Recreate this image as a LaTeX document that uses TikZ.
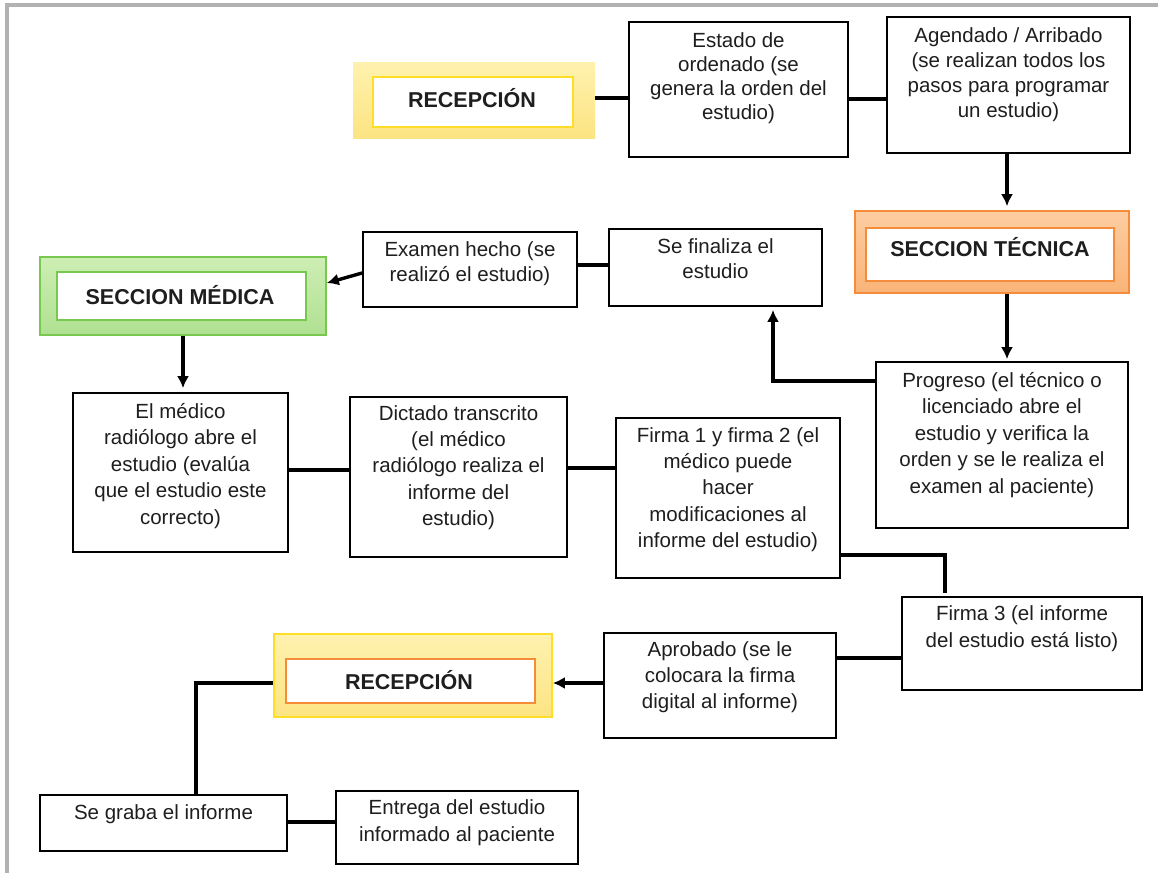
\documentclass[tikz,border=0pt]{standalone}
\usepackage{fontspec}
\setmainfont{Liberation Sans}
\usetikzlibrary{arrows.meta,calc}
\definecolor{framegray}{RGB}{178,178,178}
\definecolor{txtc}{RGB}{30,30,30}
\definecolor{ylwtop}{RGB}{255,242,175}
\definecolor{ylwbot}{RGB}{252,228,130}
\definecolor{ylwline}{RGB}{255,222,40}
\definecolor{orgtop}{RGB}{252,205,160}
\definecolor{orgbot}{RGB}{250,180,120}
\definecolor{orgline}{RGB}{245,140,60}
\definecolor{grntop}{RGB}{205,238,180}
\definecolor{grnbot}{RGB}{175,225,145}
\definecolor{grnline}{RGB}{120,200,80}
\begin{document}
\begin{tikzpicture}[x=1pt,y=-1pt,
  box/.style={draw=black,line width=1.7pt,fill=white,inner sep=0pt},
  txt/.style={align=center,inner sep=0pt,text=txtc,font=\fontsize{20.5}{25.5}\selectfont},
  title/.style={inner sep=0pt,text=txtc,font=\fontsize{21.5}{25}\selectfont\bfseries},
  conn/.style={draw=black,line width=3.4pt},
  arr/.style={conn,-{Latex[length=12pt,width=12pt]}},
  outerY/.style={inner sep=0pt,top color=ylwtop,bottom color=ylwbot},
  outerO/.style={inner sep=0pt,top color=orgtop,bottom color=orgbot,draw=orgline,line width=1.6pt},
  outerG/.style={inner sep=0pt,top color=grntop,bottom color=grnbot,draw=grnline,line width=1.6pt},
  innerW/.style={inner sep=0pt,fill=white,line width=1.6pt}]
\useasboundingbox (0,0) rectangle (1158,873);
\fill[white] (0,0) rectangle (1158,873);
% frame
\draw[framegray,line width=3.2pt] (7,873) -- (7,5) -- (1158,5);

% section boxes
\node[outerY,minimum width=242pt,minimum height=76pt] (rec1o) at (474,100) {};
\node[innerW,draw=ylwline,minimum width=200pt,minimum height=50pt] (rec1i) at (473,102) {};
\node[title] (rec1t) at (472,98) {RECEPCIÓN};

\node[outerO,minimum width=274pt,minimum height=82pt] (teco) at (992,252) {};
\node[innerW,draw=orgline,minimum width=248pt,minimum height=53pt] (teci) at (990,254.5) {};
\node[title] (tect) at (990,247) {SECCION TÉCNICA};

\node[outerG,minimum width=286pt,minimum height=78pt] (medo) at (183,296) {};
\node[innerW,draw=grnline,minimum width=249pt,minimum height=48pt] (medi) at (181.5,296) {};
\node[title] (medt) at (180,295) {SECCION MÉDICA};

\node[outerY,draw=ylwline,line width=1.6pt,minimum width=278pt,minimum height=83pt] (rec2o) at (413,675.5) {};
\node[innerW,draw=orgline,minimum width=249pt,minimum height=44pt] (rec2i) at (410.5,681) {};
\node[title] (rec2t) at (409,680) {RECEPCIÓN};

% plain boxes
\node[box,minimum width=219pt,minimum height=135pt] (estado) at (738.5,89.5) {};
\node[txt,anchor=north,font=\fontsize{20.5}{24}\selectfont] (estadoT) at ([yshift=-11pt]estado.north) {Estado de\\ordenado (se\\genera la orden del\\estudio)};

\node[box,minimum width=243pt,minimum height=136pt] (agend) at (1008.5,85) {};
\node[txt,anchor=north,font=\fontsize{20.5}{25}\selectfont] (agendT) at ([yshift=-11pt]agend.north) {Agendado / Arribado\\(se realizan todos los\\pasos para programar\\un estudio)};

\node[box,minimum width=213pt,minimum height=77pt] (fin) at (715.5,267.5) {};
\node[txt,anchor=north] (finT) at ([yshift=-10pt]fin.north) {Se finaliza el\\estudio};

\node[box,minimum width=214pt,minimum height=75pt] (exam) at (470,269.5) {};
\node[txt,anchor=north] (examT) at ([yshift=-10pt]exam.north) {Examen hecho (se\\realizó el estudio)};

\node[box,minimum width=252pt,minimum height=166pt] (prog) at (1002,445) {};
\node[txt,anchor=north,font=\fontsize{20.5}{26.5}\selectfont] (progT) at ([yshift=-11pt]prog.north) {Progreso (el técnico o\\licenciado abre el\\estudio y verifica la\\orden y se le realiza el\\examen al paciente)};

\node[box,minimum width=215pt,minimum height=159pt] (medico) at (180.5,472.5) {};
\node[txt,anchor=north,font=\fontsize{20.5}{26.5}\selectfont] (medicoT) at ([yshift=-11pt]medico.north) {El médico\\radiólogo abre el\\estudio (evalúa\\que el estudio este\\correcto)};

\node[box,minimum width=217pt,minimum height=160pt] (dict) at (458.5,477) {};
\node[txt,anchor=north,font=\fontsize{20.5}{26.3}\selectfont] (dictT) at ([yshift=-9pt]dict.north) {Dictado transcrito\\(el médico\\radiólogo realiza el\\informe del\\estudio)};

\node[box,minimum width=224pt,minimum height=160pt] (firma) at (728,498) {};
\node[txt,anchor=north,font=\fontsize{20.5}{26.3}\selectfont] (firmaT) at ([yshift=-10pt]firma.north) {Firma 1 y firma 2 (el\\médico puede\\hacer\\modificaciones al\\informe del estudio)};

\node[box,minimum width=240pt,minimum height=93pt] (firma3) at (1022,643.5) {};
\node[txt,anchor=north,font=\fontsize{20.5}{27}\selectfont] (firma3T) at ([yshift=-9pt]firma3.north) {Firma 3 (el informe\\del estudio está listo)};

\node[box,minimum width=232pt,minimum height=105pt] (aprob) at (720,685.5) {};
\node[txt,anchor=north,font=\fontsize{20.5}{26}\selectfont] (aprobT) at ([yshift=-9pt]aprob.north) {Aprobado (se le\\colocara la firma\\digital al informe)};

\node[box,minimum width=247pt,minimum height=56pt] (graba) at (163.5,823) {};
\node[txt,anchor=north] (grabaT) at ([yshift=-10pt]graba.north) {Se graba el informe};

\node[box,minimum width=242pt,minimum height=73pt] (entrega) at (457,827.5) {};
\node[txt,anchor=north,font=\fontsize{20.5}{27}\selectfont] (entregaT) at ([yshift=-9pt]entrega.north) {Entrega del estudio\\informado al paciente};

% connectors
\draw[conn] ([yshift=2pt]rec1o.east) -- ([yshift=2pt]rec1o.east -| estado.west);
\draw[conn] ([yshift=-9.5pt]estado.east) -- ([yshift=-9.5pt]estado.east -| agend.west);
\draw[arr] ([xshift=-1.5pt]agend.south) -- ([xshift=-1.5pt,yshift=4pt]agend.south |- teco.north);
\draw[arr] ([xshift=15pt]teco.south) -- ([xshift=15pt,yshift=2pt]teco.south |- prog.north);
\draw[arr] ([yshift=-20pt]prog.north west) -| ([xshift=57.5pt,yshift=-3pt]fin.south);
\draw[conn] ([yshift=2.5pt]fin.west) -- ([yshift=2.5pt]fin.west -| exam.east);
\draw[arr] ([yshift=-3.5pt]exam.west) -- ([yshift=13pt]medo.east);
\draw[arr] (medo.south) -- ([yshift=4pt]medo.south |- medico.north);
\draw[conn] ([yshift=2.5pt]medico.east) -- ([yshift=2.5pt]medico.east -| dict.west);
\draw[conn] ([yshift=9pt]dict.east) -- ([yshift=9pt]dict.east -| firma.west);
\draw[conn] ([yshift=-57pt]firma.east) -| ([xshift=-77pt,yshift=3pt]firma3.north);
\draw[conn] ([yshift=-14.5pt]firma3.west) -- ([yshift=-14.5pt]firma3.west -| aprob.east);
\draw[arr] ([yshift=2.5pt]aprob.west) -- ([yshift=2.5pt]aprob.west -| rec2o.east);
\draw[conn] ([yshift=-7.5pt]rec2o.west) -| ([xshift=32.5pt]graba.north);
\draw[conn] ([yshift=1pt]graba.east) -- ([yshift=1pt]graba.east -| entrega.west);
\end{tikzpicture}
\end{document}
